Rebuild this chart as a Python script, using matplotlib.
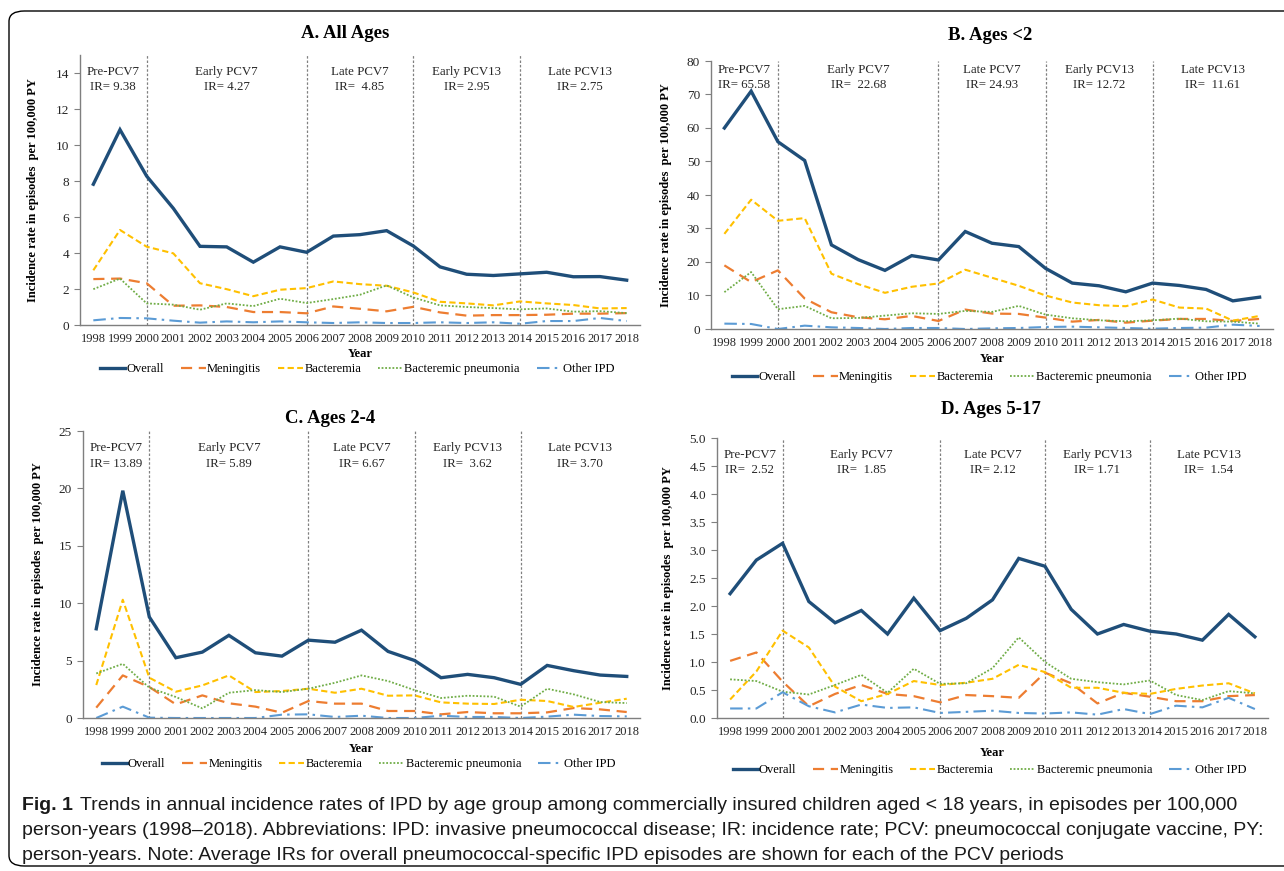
import matplotlib
matplotlib.use("Agg")
import matplotlib.pyplot as plt
from matplotlib.patches import FancyBboxPatch

plt.rcParams['font.family'] = ['Liberation Serif', 'DejaVu Serif']

years = list(range(1998, 2019))
series_names = ["Overall", "Meningitis", "Bacteremia", "Bacteremic pneumonia", "Other IPD"]
period_names = ["Pre-PCV7", "Early PCV7", "Late PCV7", "Early PCV13", "Late PCV13"]
period_breaks = [2000, 2006, 2010, 2014]

# A. All Ages
a_overall = [7.82, 10.85, 8.27, 6.48, 4.37, 4.34, 3.49, 4.34, 4.04, 4.94, 5.02, 5.24, 4.39, 3.23, 2.82, 2.75, 2.84, 2.93, 2.68, 2.69, 2.49]
a_mening = [2.55, 2.58, 2.32, 1.07, 1.09, 1.00, 0.72, 0.72, 0.65, 1.03, 0.90, 0.76, 1.01, 0.70, 0.52, 0.55, 0.55, 0.57, 0.63, 0.63, 0.66]
a_bact = [3.04, 5.28, 4.35, 3.98, 2.32, 1.99, 1.60, 1.96, 2.05, 2.42, 2.27, 2.18, 1.81, 1.29, 1.20, 1.09, 1.31, 1.20, 1.11, 0.92, 0.94]
a_pneu = [1.99, 2.58, 1.20, 1.13, 0.85, 1.20, 1.05, 1.46, 1.22, 1.44, 1.68, 2.20, 1.53, 1.09, 1.00, 0.94, 0.87, 0.92, 0.74, 0.77, 0.66]
a_other = [0.26, 0.39, 0.37, 0.24, 0.13, 0.20, 0.15, 0.20, 0.15, 0.11, 0.15, 0.11, 0.11, 0.15, 0.11, 0.15, 0.07, 0.22, 0.22, 0.39, 0.22]
a_ir = ["9.38", "4.27", " 4.85", "2.95", "2.75"]

# B. Ages <2
b_overall = [60.0, 71.0, 55.9, 50.3, 25.1, 20.7, 17.5, 21.9, 20.6, 29.1, 25.6, 24.6, 18.1, 13.7, 12.9, 11.1, 13.7, 13.0, 11.8, 8.4, 9.5]
b_mening = [19.0, 14.0, 17.5, 9.1, 5.0, 3.5, 2.9, 3.9, 2.4, 5.8, 4.6, 4.5, 3.4, 2.2, 2.7, 1.9, 2.5, 3.0, 3.0, 2.4, 3.0]
b_bact = [28.4, 38.6, 32.3, 33.1, 16.5, 13.4, 10.8, 12.6, 13.6, 17.7, 15.3, 12.9, 10.0, 7.9, 7.1, 6.8, 8.8, 6.4, 6.1, 2.5, 3.9]
b_pneu = [11.0, 17.0, 5.9, 6.9, 3.2, 3.3, 4.0, 4.7, 4.5, 5.4, 5.1, 6.9, 4.3, 3.2, 2.6, 2.3, 2.6, 3.1, 2.3, 2.2, 1.6]
b_other = [1.6, 1.5, 0.0, 1.0, 0.5, 0.3, 0.0, 0.3, 0.3, 0.0, 0.2, 0.3, 0.6, 0.7, 0.5, 0.3, 0.1, 0.3, 0.4, 1.3, 0.9]
b_ir = ["65.58", " 22.68", "24.93", "12.72", " 11.61"]

# C. Ages 2-4
c_overall = [7.77, 19.8, 8.8, 5.25, 5.74, 7.2, 5.68, 5.39, 6.78, 6.6, 7.65, 5.8, 5.01, 3.51, 3.8, 3.51, 2.93, 4.58, 4.12, 3.74, 3.62]
c_mening = [0.9, 3.71, 2.7, 1.19, 1.97, 1.28, 0.99, 0.46, 1.48, 1.25, 1.25, 0.61, 0.61, 0.32, 0.52, 0.41, 0.41, 0.49, 0.87, 0.75, 0.52]
c_bact = [2.87, 10.3, 3.51, 2.29, 2.84, 3.71, 2.26, 2.35, 2.55, 2.2, 2.55, 1.94, 1.97, 1.36, 1.25, 1.22, 1.59, 1.48, 0.96, 1.33, 1.68]
c_pneu = [3.88, 4.72, 2.64, 1.83, 0.84, 2.2, 2.43, 2.26, 2.55, 3.07, 3.71, 3.22, 2.43, 1.74, 1.94, 1.86, 0.99, 2.55, 2.06, 1.39, 1.3]
c_other = [0.0, 0.99, 0.03, 0.0, 0.0, 0.0, 0.0, 0.29, 0.32, 0.09, 0.2, 0.0, 0.0, 0.2, 0.09, 0.09, 0.0, 0.12, 0.29, 0.17, 0.14]
c_ir = ["13.89", "5.89", "6.67", " 3.62", "3.70"]

# D. Ages 5-17
d_overall = [2.22, 2.82, 3.12, 2.08, 1.70, 1.92, 1.50, 2.14, 1.56, 1.78, 2.11, 2.85, 2.71, 1.94, 1.50, 1.67, 1.55, 1.50, 1.39, 1.85, 1.45]
d_mening = [1.02, 1.17, 0.65, 0.21, 0.43, 0.59, 0.43, 0.39, 0.28, 0.41, 0.39, 0.36, 0.81, 0.62, 0.26, 0.45, 0.38, 0.30, 0.30, 0.39, 0.41]
d_bact = [0.33, 0.83, 1.56, 1.26, 0.56, 0.30, 0.43, 0.66, 0.59, 0.63, 0.70, 0.95, 0.82, 0.54, 0.54, 0.45, 0.43, 0.52, 0.58, 0.62, 0.44]
d_pneu = [0.69, 0.66, 0.47, 0.42, 0.59, 0.77, 0.45, 0.88, 0.61, 0.62, 0.89, 1.44, 1.00, 0.70, 0.64, 0.60, 0.67, 0.41, 0.32, 0.48, 0.44]
d_other = [0.17, 0.17, 0.46, 0.21, 0.10, 0.24, 0.18, 0.19, 0.09, 0.11, 0.13, 0.09, 0.08, 0.10, 0.06, 0.16, 0.07, 0.22, 0.19, 0.36, 0.16]
d_ir = [" 2.52", " 1.85", "2.12", "1.71", " 1.54"]

colors = ["#1F4E79", "#ED7D31", "#FFC000", "#70AD47", "#5B9BD5"]
widths = [2.4, 1.6, 1.5, 1.3, 1.5]
dashes = [None, (5, 3), (3, 1.6), (1, 1), (6, 2.5, 1.2, 2.5)]

W, H = 1284, 871
fig = plt.figure(figsize=(W / 100, H / 100), dpi=100)


def px_rect(l, t, r, b):
    return [l / W, (H - b) / H, (r - l) / W, (b - t) / H]


panels = [
    dict(title="A. All Ages", rect=(80, 55, 640, 325), ymax=15, ticks=range(0, 15, 2), fmt="{:d}",
         data=[a_overall, a_mening, a_bact, a_pneu, a_other], ir=a_ir, title_xy=(345, 33), txt_y=0.96,
         leg_y=369, year_y=354, ylab_x=33),
    dict(title="B. Ages <2", rect=(711, 61, 1273, 329), ymax=80, ticks=range(0, 81, 10), fmt="{:d}",
         data=[b_overall, b_mening, b_bact, b_pneu, b_other], ir=b_ir, title_xy=(990, 35), txt_y=0.99,
         leg_y=377, year_y=359, ylab_x=666),
    dict(title="C. Ages 2-4", rect=(83, 431, 640, 718), ymax=25, ticks=range(0, 26, 5), fmt="{:d}",
         data=[c_overall, c_mening, c_bact, c_pneu, c_other], ir=c_ir, title_xy=(330, 418), txt_y=0.96,
         leg_y=764, year_y=749, ylab_x=38),
    dict(title="D. Ages 5-17", rect=(717, 438, 1268, 718), ymax=5, ticks=[i / 2 for i in range(11)], fmt="{:.1f}",
         data=[d_overall, d_mening, d_bact, d_pneu, d_other], ir=d_ir, title_xy=(991, 409), txt_y=0.96,
         leg_y=770, year_y=753, ylab_x=668),
]

period_x = [1998.75, 2003, 2008, 2012, 2016.25]

for p in panels:
    l, t, r, b = p["rect"]
    ax = fig.add_axes(px_rect(l, t, r, b))
    hpx = b - t
    for name, vals, c, lw, ds in zip(series_names, p["data"], colors, widths, dashes):
        line, = ax.plot(years, vals, color=c, lw=lw, label=name, solid_joinstyle="miter")
        if ds:
            line.set_dashes(ds)
    for xb in period_breaks:
        ax.axvline(xb, color="#808080", lw=0.9, ls=(0, (2, 1.5)), zorder=0)
    ax.set_xlim(1997.5, 2018.5)
    ax.set_ylim(0, p["ymax"])
    ax.set_xticks(years)
    ax.set_xticklabels([str(y) for y in years], fontsize=9, color="#262626")
    ax.set_yticks(list(p["ticks"]))
    ax.set_yticklabels([p["fmt"].format(v) for v in p["ticks"]], fontsize=9.5, color="#262626")
    ax.tick_params(axis="x", length=0, pad=6)
    ax.tick_params(axis="y", length=4, direction="out", color="#808080", pad=4)
    for s in ["top", "right"]:
        ax.spines[s].set_visible(False)
    for s in ["left", "bottom"]:
        ax.spines[s].set_color("#7f7f7f")
        ax.spines[s].set_linewidth(1.0)
    ax.set_ylabel("Incidence rate in episodes  per 100,000 PY", fontsize=9, fontweight="bold", va="center")
    ax.yaxis.set_label_coords((p["ylab_x"] - l) / (r - l), 0.5)
    ax.set_xlabel("Year", fontsize=9, fontweight="bold", va="center")
    ax.xaxis.set_label_coords(0.5, -(p["year_y"] - b) / hpx)
    for name, ir, xp in zip(period_names, p["ir"], period_x):
        ax.text(xp, p["ymax"] * p["txt_y"], name + "\nIR= " + ir, ha="center", va="top",
                fontsize=9.3, color="#262626", linespacing=1.35)
    tx, ty = p["title_xy"]
    fig.text(tx / W, 1 - ty / H, p["title"], ha="center", va="center", fontsize=13.5, fontweight="bold")
    ax.legend(loc="center", bbox_to_anchor=(0.495, -(p["leg_y"] - b) / hpx), ncol=5, frameon=False,
              fontsize=9, handlelength=2.0, handletextpad=0.1, columnspacing=1.35)

# border and caption
box = FancyBboxPatch((9 / W, 1 - 866 / H), 1.2, (866 - 11) / H, boxstyle="round,pad=0,rounding_size=0.012",
                     transform=fig.transFigure, fill=False, ec="black", lw=1.0, clip_on=False)
fig.patches.append(box)

cap_font = ['Liberation Sans', 'DejaVu Sans']
cap_size = 14
fig.text(22 / W, 1 - 805 / H, "Fig. 1", fontsize=cap_size, fontweight="bold", family=cap_font, va="center",
         color="#1a1a1a")
fig.text(80 / W, 1 - 805 / H,
         "Trends in annual incidence rates of IPD by age group among commercially insured children aged < 18 years, in episodes per 100,000",
         fontsize=cap_size, family=cap_font, va="center", color="#1a1a1a")
fig.text(22 / W, 1 - 830 / H,
         "person-years (1998\u20132018). Abbreviations: IPD: invasive pneumococcal disease; IR: incidence rate; PCV: pneumococcal conjugate vaccine, PY:",
         fontsize=cap_size, family=cap_font, va="center", color="#1a1a1a")
fig.text(22 / W, 1 - 855 / H,
         "person-years. Note: Average IRs for overall pneumococcal-specific IPD episodes are shown for each of the PCV periods",
         fontsize=cap_size, family=cap_font, va="center", color="#1a1a1a")

fig.savefig("out.png", dpi=100)
